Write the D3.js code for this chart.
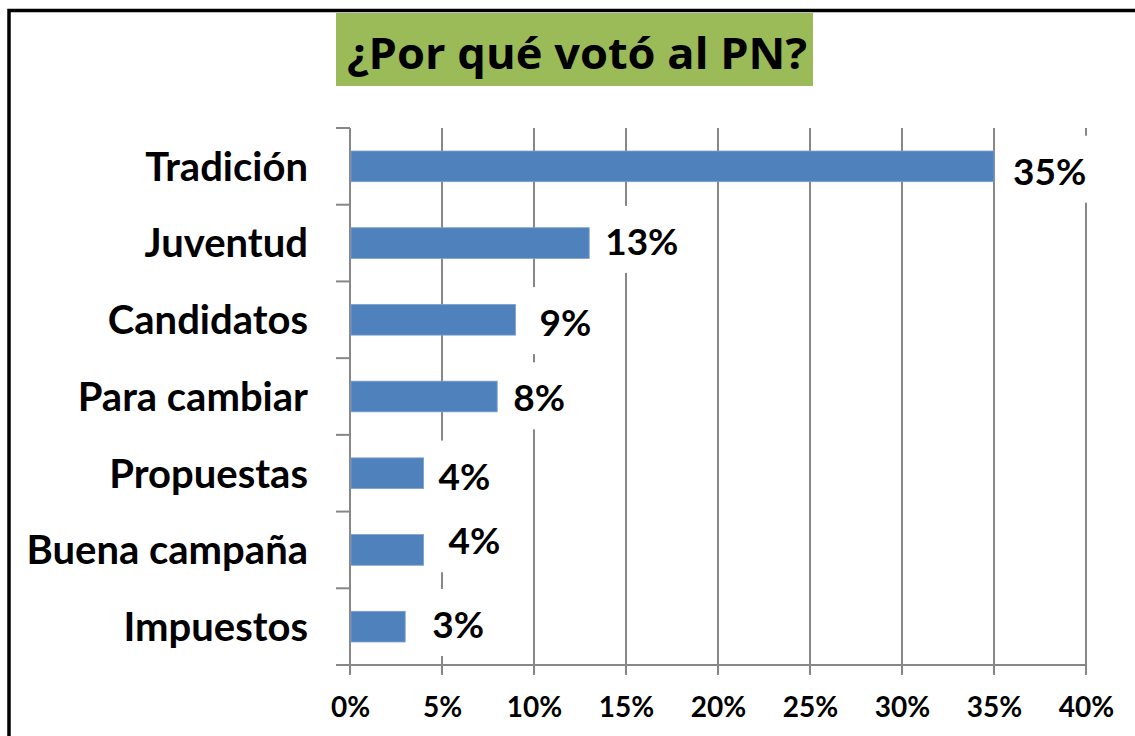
<!DOCTYPE html>
<html>
<head>
<meta charset="utf-8">
<script src="https://cdn.jsdelivr.net/npm/d3@7"></script>
<style>
  body { margin: 0; background: #fff; }
  text { font-family: Lato, "Open Sans", sans-serif; font-weight: bold; fill: #000; }
</style>
</head>
<body>
<script>
var title = "¿Por qué votó al PN?";
var categories = ["Tradición", "Juventud", "Candidatos", "Para cambiar", "Propuestas", "Buena campaña", "Impuestos"];
var values = [0.35, 0.13, 0.09, 0.08, 0.04, 0.04, 0.03];
var tickVals = [0, 0.05, 0.10, 0.15, 0.20, 0.25, 0.30, 0.35, 0.40];

// hand-placed data labels in the original: [dx from bar end, dy from bar centre]
var labelShift = [[19, 5], [16, -1.5], [24, 3], [16, 1.5], [15, 3], [25, -9], [27, -2]];

var W = 1135, H = 736;
var pLeft = 350, pRight = 1086, pTop = 128, pBottom = 665;
var grey = "#878787";

var svg = d3.select("body").append("svg")
  .attr("width", W)
  .attr("height", H);

// outer frame, only the top and left edges are inside the picture
svg.append("path")
  .attr("d", "M9,740 L9,10.5 L1140,10.5")
  .style("fill", "none")
  .style("stroke", "#000")
  .style("stroke-width", 3.5);

// title box
svg.append("rect")
  .attr("x", 336).attr("y", 13)
  .attr("width", 477).attr("height", 73)
  .style("fill", "#9BBB59");
svg.append("text")
  .attr("x", 347).attr("y", 69)
  .attr("textLength", 460)
  .attr("lengthAdjust", "spacingAndGlyphs")
  .style("font-family", "'Open Sans', sans-serif")
  .style("font-size", "43px")
  .text(title);

var x = d3.scaleLinear().domain([0, 0.4]).range([pLeft, pRight]);
var y = d3.scaleBand().domain(categories).range([pTop, pBottom])
  .paddingInner(0.6).paddingOuter(0.3);
var step = y.step();

// vertical gridlines (run down past the axis as ticks)
svg.append("g")
  .selectAll("line")
  .data(tickVals)
  .enter().append("line")
    .attr("x1", function(d) { return x(d); })
    .attr("x2", function(d) { return x(d); })
    .attr("y1", pTop)
    .attr("y2", pBottom + 10)
    .style("stroke", grey)
    .style("stroke-width", 2);

// category boundary ticks on the left
svg.append("g")
  .selectAll("line")
  .data(d3.range(categories.length + 1))
  .enter().append("line")
    .attr("x1", pLeft - 14)
    .attr("x2", pLeft)
    .attr("y1", function(i) { return pTop + i * step; })
    .attr("y2", function(i) { return pTop + i * step; })
    .style("stroke", grey)
    .style("stroke-width", 2);

// x axis line
svg.append("line")
  .attr("x1", pLeft - 14).attr("x2", pRight)
  .attr("y1", pBottom).attr("y2", pBottom)
  .style("stroke", grey)
  .style("stroke-width", 2);

// x axis labels
var xAxis = svg.append("g")
  .attr("transform", "translate(0," + pBottom + ")")
  .call(d3.axisBottom(x).tickValues(tickVals).tickSize(0).tickFormat(d3.format(".0%")));
xAxis.select(".domain").remove();
xAxis.selectAll("text")
  .attr("y", 52).attr("dy", null)
  .style("font-size", "28px")
  .style("font-family", "Lato, 'Open Sans', sans-serif");

// y axis labels
var yAxis = svg.append("g")
  .attr("transform", "translate(" + pLeft + ",0)")
  .call(d3.axisLeft(y).tickSize(0).tickPadding(42));
yAxis.select(".domain").remove();
yAxis.selectAll("text")
  .attr("dy", "0.36em")
  .style("font-size", "40px")
  .style("font-family", "Lato, 'Open Sans', sans-serif");

// bars
svg.append("g")
  .selectAll("rect")
  .data(values)
  .enter().append("rect")
    .attr("x", x(0) + 1)
    .attr("y", function(d, i) { return y(categories[i]); })
    .attr("width", function(d) { return x(d) - x(0) - 1; })
    .attr("height", y.bandwidth())
    .style("fill", "#4F81BD")
    .style("stroke", "#7d9fcf")
    .style("stroke-width", 0.8);

// data labels with white boxes that break the gridlines
var fmt = d3.format(".0%");
var lab = svg.append("g")
  .selectAll("g")
  .data(values)
  .enter().append("g");

lab.append("text")
  .attr("x", function(d, i) { return x(d) + labelShift[i][0]; })
  .attr("y", function(d, i) { return y(categories[i]) + y.bandwidth() / 2 + labelShift[i][1]; })
  .attr("dy", "0.36em")
  .style("font-size", "37px")
  .text(function(d) { return fmt(d); });

lab.each(function() {
  var g = d3.select(this);
  var b = g.select("text").node().getBBox();
  g.insert("rect", "text")
    .attr("x", b.x - 8)
    .attr("y", b.y - 12)
    .attr("width", b.width + 16)
    .attr("height", b.height + 22)
    .style("fill", "#fff");
});
</script>
</body>
</html>
